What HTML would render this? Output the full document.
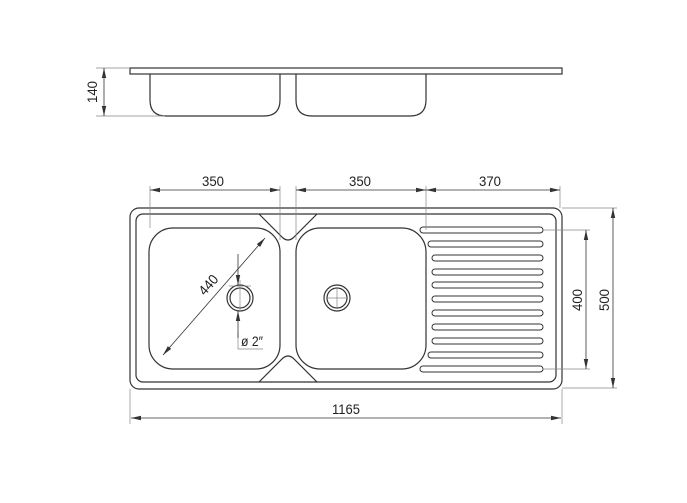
<!DOCTYPE html>
<html><head><style>body{margin:0;background:#fff}svg{display:block}text{font-family:"Liberation Sans",sans-serif;font-size:14px;fill:#222}</style></head><body>
<svg width="687" height="503" viewBox="0 0 687 503">
<defs>
<marker id="a" viewBox="0 0 10 6" refX="10" refY="3" markerWidth="10" markerHeight="6" orient="auto-start-reverse" markerUnits="userSpaceOnUse"><path d="M0,0.8L10,3L0,5.2Z" fill="#333"/></marker>
</defs>
<g fill="none" stroke="#333" stroke-width="1.2">
<rect x="130" y="68" width="432" height="6"/>
<path d="M150,74V100Q150,116 166,116H264Q280,116 280,100V74"/>
<path d="M296,74V100Q296,116 312,116H410Q426,116 426,100V74"/>
</g>
<g stroke="#888" stroke-width="0.7" fill="none">
<path d="M96,68H130M96,116H165"/>
</g>
<line x1="104" y1="68" x2="104" y2="116" stroke="#333" stroke-width="0.8" marker-start="url(#a)" marker-end="url(#a)"/>
<text transform="translate(97,92) rotate(-90)" text-anchor="middle" textLength="22" lengthAdjust="spacingAndGlyphs">140</text>

<g fill="none" stroke="#333" stroke-width="1.2">
<rect x="130" y="208" width="432" height="181" rx="9"/>
<rect x="136" y="214" width="420" height="168" rx="7"/>
<rect x="149" y="228" width="131" height="141" rx="24"/>
<rect x="296" y="228" width="130" height="141" rx="24"/>
<path d="M259,214L283,238Q288,242 293,238L317,214"/>
<path d="M259,382L283,358Q288,354 293,358L317,382"/>
<circle cx="240" cy="298" r="13"/><circle cx="240" cy="298" r="10"/>
<circle cx="337" cy="298" r="13"/><circle cx="337" cy="298" r="10"/>
<g stroke-width="1">
<rect x="420" y="227" width="123" height="6" rx="3"/>
<rect x="428" y="241" width="115" height="6" rx="3"/>
<rect x="432" y="255" width="111" height="6" rx="3"/>
<rect x="432" y="269" width="111" height="6" rx="3"/>
<rect x="432" y="282" width="111" height="6" rx="3"/>
<rect x="432" y="296" width="111" height="6" rx="3"/>
<rect x="432" y="310" width="111" height="6" rx="3"/>
<rect x="432" y="324" width="111" height="6" rx="3"/>
<rect x="432" y="338" width="111" height="6" rx="3"/>
<rect x="428" y="352" width="115" height="6" rx="3"/>
<rect x="420" y="366" width="123" height="6" rx="3"/>
</g>
</g>
<g stroke="#888" stroke-width="0.7" fill="none">
<path d="M150,186V228M280,186V240M296,186V240M426,186V230M560,186V208"/>
<path d="M543,230H590M543,369H590M562,208H617M562,388H617"/>
<path d="M130,389V424M562,389V424"/>
<path d="M229,286H251M240,280V312M326,298H348M337,287V309"/>
<path d="M238,332V349H263"/>
</g>
<g stroke="#333" stroke-width="0.8">
<line x1="150" y1="190" x2="280" y2="190" marker-start="url(#a)" marker-end="url(#a)"/>
<line x1="296" y1="190" x2="426" y2="190" marker-start="url(#a)" marker-end="url(#a)"/>
<line x1="426" y1="190" x2="560" y2="190" marker-start="url(#a)" marker-end="url(#a)"/>
<line x1="586" y1="230" x2="586" y2="369" marker-start="url(#a)" marker-end="url(#a)"/>
<line x1="613" y1="208" x2="613" y2="388" marker-start="url(#a)" marker-end="url(#a)"/>
<line x1="131" y1="418" x2="561" y2="418" marker-start="url(#a)" marker-end="url(#a)"/>
<line x1="163" y1="355" x2="265" y2="238" marker-start="url(#a)" marker-end="url(#a)"/>
<line x1="238" y1="254" x2="238" y2="285" marker-end="url(#a)"/>
<line x1="238" y1="338" x2="238" y2="311" marker-end="url(#a)"/>
</g>
<text x="213" y="186" text-anchor="middle" textLength="22" lengthAdjust="spacingAndGlyphs">350</text>
<text x="360" y="186" text-anchor="middle" textLength="22" lengthAdjust="spacingAndGlyphs">350</text>
<text x="490" y="186" text-anchor="middle" textLength="22" lengthAdjust="spacingAndGlyphs">370</text>
<text x="346" y="414" text-anchor="middle" textLength="28" lengthAdjust="spacingAndGlyphs">1165</text>
<text transform="translate(582,300) rotate(-90)" text-anchor="middle" textLength="22" lengthAdjust="spacingAndGlyphs">400</text>
<text transform="translate(609,300) rotate(-90)" text-anchor="middle" textLength="22" lengthAdjust="spacingAndGlyphs">500</text>
<text transform="translate(212,288) rotate(-49)" text-anchor="middle" textLength="22" lengthAdjust="spacingAndGlyphs">440</text>
<text x="241" y="346" textLength="22" lengthAdjust="spacingAndGlyphs">ø 2″</text>
</svg>
</body></html>
